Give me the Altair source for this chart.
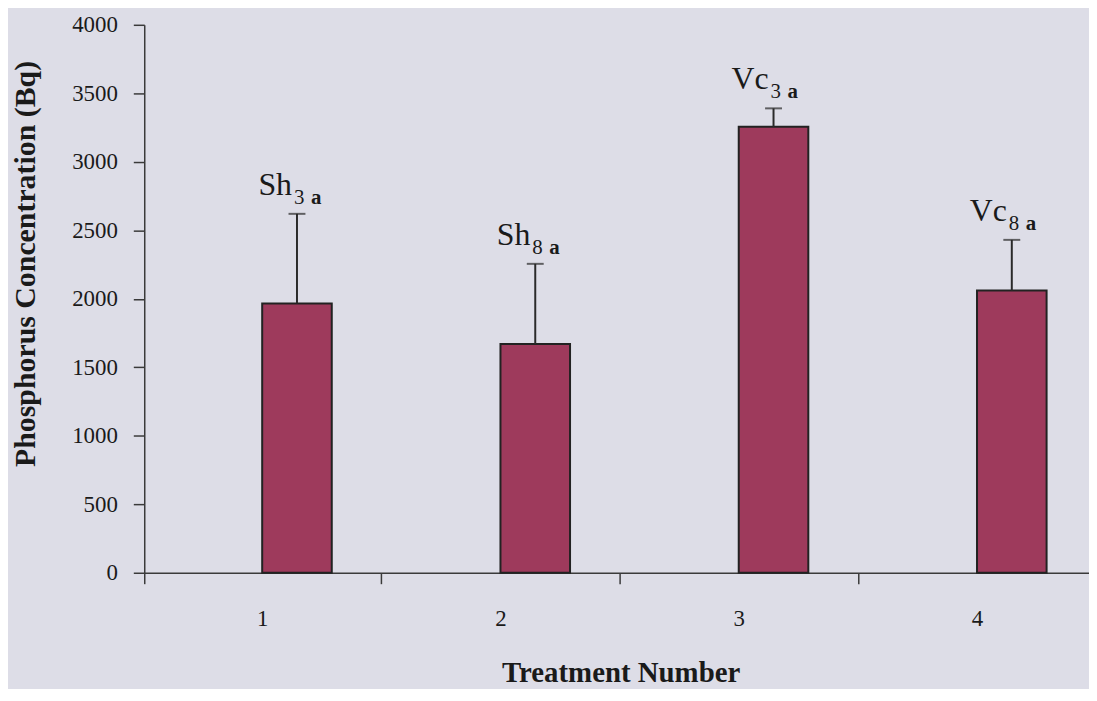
import altair as alt
import pandas as pd

treatments = [1, 2, 3, 4]
means = [1965, 1670, 3255, 2060]
errors = [655, 585, 135, 370]
main_labels = ["Sh", "Sh", "Vc", "Vc"]
sub_digits = ["3", "8", "3", "8"]
sub_letters = ["a", "a", "a", "a"]

df = pd.DataFrame({
    "t": treatments,
    "mean": means,
    "err": errors,
    "lab": main_labels,
    "dig": sub_digits,
    "let": sub_letters,
})

FONT = "Liberation Serif"
BG = "#dddde7"
AX = "#3a3a3a"
BW = 0.292  # bar width in treatment units

base = alt.Chart(df).transform_calculate(
    right=f"datum.t + {BW}",
    mid=f"datum.t + {BW / 2}",
    top="datum.mean + datum.err",
)

xscale = alt.Scale(domain=[0.505, 4.47], nice=False, zero=False)
yscale = alt.Scale(domain=[0, 4000], nice=False)

xaxis = alt.Axis(
    values=[0.505, 1, 1.5, 2, 2.5, 3, 3.5, 4],
    labelExpr="datum.value % 1 == 0 ? datum.value : ''",
    tickColor={"condition": {"test": "datum.value % 1 == 0", "value": "transparent"}, "value": AX},
    tickSize=11,
    tickWidth=1.5,
    domainColor=AX,
    domainWidth=1.5,
    grid=False,
    labelFont=FONT,
    labelFontSize=23,
    labelColor="#1a1a1a",
    labelPadding=24,
    labelAngle=0,
    labelFlush=False,
    title="Treatment Number",
    titleFont=FONT,
    titleFontSize=29,
    titleFontWeight="bold",
    titleColor="#1a1a1a",
    titleX=479,
    titleY=109,
    titleBaseline="alphabetic",
)

yaxis = alt.Axis(
    values=[0, 500, 1000, 1500, 2000, 2500, 3000, 3500, 4000],
    format="d",
    tickSize=11,
    tickWidth=1.5,
    tickColor=AX,
    domainColor=AX,
    domainWidth=1.5,
    grid=False,
    labelFont=FONT,
    labelFontSize=23,
    labelColor="#1a1a1a",
    labelPadding=16,
    labelFlush=False,
    title="Phosphorus Concentration (Bq)",
    titleFont=FONT,
    titleFontSize=30,
    titleFontWeight="bold",
    titleColor="#1a1a1a",
    titleX=-119,
    titleY=240,
    titleAngle=-90,
    titleAlign="center",
    titleBaseline="middle",
)

bars = base.mark_bar(color="#9e3a5c", stroke="#222222", strokeWidth=2).encode(
    x=alt.X("t:Q", scale=xscale, axis=xaxis),
    x2="right:Q",
    y=alt.Y("mean:Q", scale=yscale, axis=yaxis),
    y2=alt.datum(0),
)

err_line = base.mark_rule(color="#2a2a2a", strokeWidth=2).encode(
    x="mid:Q",
    y="mean:Q",
    y2="top:Q",
)

err_cap = base.mark_tick(color="#2a2a2a", orient="horizontal", size=17, thickness=2).encode(
    x="mid:Q",
    y="top:Q",
)

main_txt = base.mark_text(
    font=FONT, fontSize=32, color="#1a1a1a", align="right", baseline="alphabetic", dx=30, dy=-19
).encode(x="t:Q", y="top:Q", text="lab:N")

dig_txt = base.mark_text(
    font=FONT, fontSize=21, color="#1a1a1a", align="left", baseline="alphabetic", dx=32, dy=-10
).encode(x="t:Q", y="top:Q", text="dig:N")

let_txt = base.mark_text(
    font=FONT, fontSize=21, fontWeight="bold", color="#1a1a1a", align="left", baseline="alphabetic", dx=49, dy=-10
).encode(x="t:Q", y="top:Q", text="let:N")

chart = alt.layer(bars, err_line, err_cap, main_txt, dig_txt, let_txt).properties(
    width=950,
    height=551,
    autosize=alt.AutoSizeParams(type="none"),
    padding={"left": 137, "top": 15, "right": 0, "bottom": 115},
    background=BG,
).configure_view(stroke=None)

chart.save("out.html", embed_options={"renderer": "svg", "actions": False})
